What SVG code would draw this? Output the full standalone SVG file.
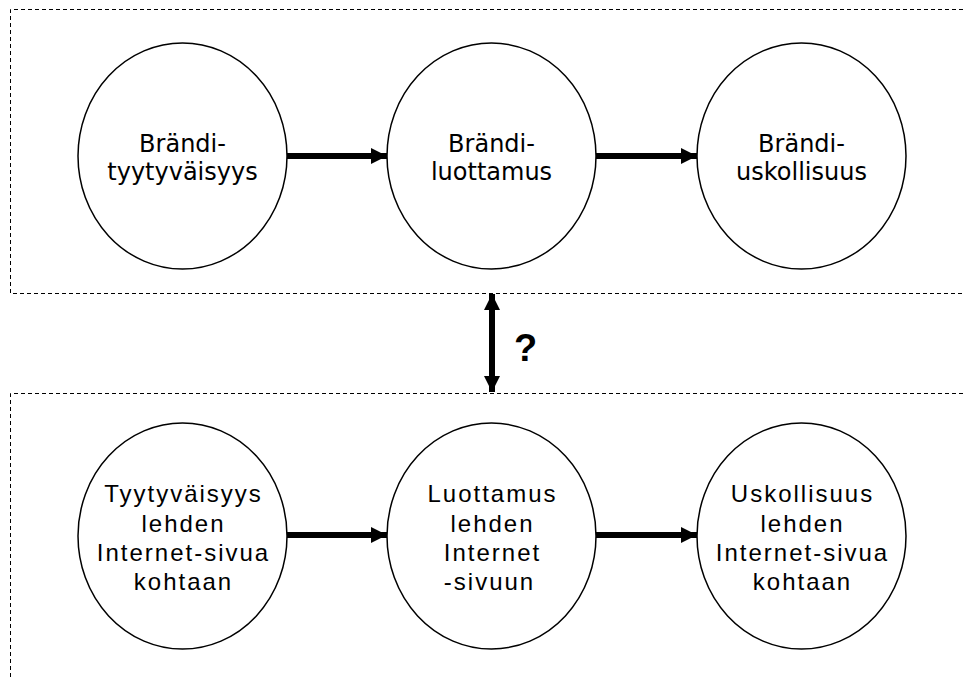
<svg xmlns="http://www.w3.org/2000/svg" width="964" height="677" viewBox="0 0 964 677">
  <style>
    .frame { fill: none; stroke: #000; stroke-width: 1; stroke-dasharray: 4 3; }
    .node { fill: #fff; stroke: #000; stroke-width: 1.5; }
    .brand { font-family: "DejaVu Sans", Verdana, sans-serif; font-size: 24px; fill: #000; text-anchor: middle; }
    .site { font-family: "Liberation Sans", Arial, sans-serif; font-size: 24px; letter-spacing: 2px; fill: #000; text-anchor: middle; }
    .link { stroke: #000; stroke-width: 6; fill: none; }
    .q { font-family: "Liberation Sans", Arial, sans-serif; font-size: 38px; font-weight: bold; fill: #000; }
  </style>
  <defs>
    <marker id="head" viewBox="0 0 16 16" refX="16" refY="8" markerWidth="16" markerHeight="16" markerUnits="userSpaceOnUse" orient="auto-start-reverse">
      <path d="M0,0 L16,8 L0,16 Z" fill="#000"/>
    </marker>
  </defs>

  <rect width="964" height="677" fill="#fff"/>

  <!-- dashed frames around the two levels -->
  <path class="frame" d="M970,9.5 H10.5 V293.5 H970"/>
  <path class="frame" d="M970,393.5 H10.5 V690"/>

  <!-- connectors -->
  <g id="connectors">
    <line class="link" x1="287" y1="156" x2="387" y2="156" marker-end="url(#head)"/>
    <line class="link" x1="596" y1="156" x2="697" y2="156" marker-end="url(#head)"/>
    <line class="link" x1="287" y1="535" x2="387" y2="535" marker-end="url(#head)"/>
    <line class="link" x1="596" y1="535" x2="697" y2="535" marker-end="url(#head)"/>
    <line class="link" stroke-width="5" x1="492" y1="294" x2="492" y2="392" marker-start="url(#head)" marker-end="url(#head)"/>
    <text class="q" x="514" y="361">?</text>
  </g>

  <!-- top row: brand constructs -->
  <g id="brand-satisfaction">
    <ellipse class="node" cx="182.5" cy="156" rx="104.5" ry="113"/>
    <text class="brand" x="182.5" y="152">Brändi-</text>
    <text class="brand" x="182.5" y="180">tyytyväisyys</text>
  </g>
  <g id="brand-trust">
    <ellipse class="node" cx="491.5" cy="156" rx="104.5" ry="113"/>
    <text class="brand" x="491.5" y="152">Brändi-</text>
    <text class="brand" x="491.5" y="180">luottamus</text>
  </g>
  <g id="brand-loyalty">
    <ellipse class="node" cx="801.5" cy="156" rx="104.5" ry="113"/>
    <text class="brand" x="801.5" y="152">Brändi-</text>
    <text class="brand" x="801.5" y="180">uskollisuus</text>
  </g>

  <!-- bottom row: magazine website constructs -->
  <g id="site-satisfaction">
    <ellipse class="node" cx="182.5" cy="536" rx="104.5" ry="113"/>
    <text class="site" x="183.5" y="502">Tyytyväisyys</text>
    <text class="site" x="183.5" y="531.5">lehden</text>
    <text class="site" x="183.5" y="561">Internet-sivua</text>
    <text class="site" x="183.5" y="590">kohtaan</text>
  </g>
  <g id="site-trust">
    <ellipse class="node" cx="491.5" cy="536" rx="104.5" ry="113"/>
    <text class="site" x="492.5" y="502">Luottamus</text>
    <text class="site" x="492.5" y="531.5">lehden</text>
    <text class="site" x="492.5" y="561">Internet</text>
    <text class="site" x="489.5" y="590">-sivuun</text>
  </g>
  <g id="site-loyalty">
    <ellipse class="node" cx="801.5" cy="536" rx="104.5" ry="113"/>
    <text class="site" x="802.5" y="502">Uskollisuus</text>
    <text class="site" x="802.5" y="531.5">lehden</text>
    <text class="site" x="802.5" y="561">Internet-sivua</text>
    <text class="site" x="802.5" y="590">kohtaan</text>
  </g>
</svg>
